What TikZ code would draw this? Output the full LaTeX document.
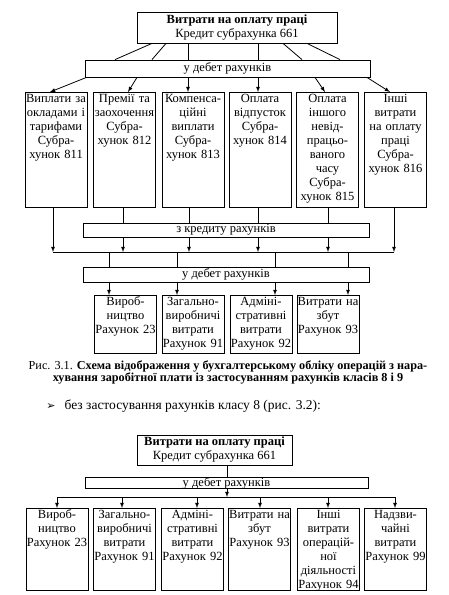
\documentclass[tikz,border=0pt]{standalone}
\usepackage{fontspec}
\setmainfont{Liberation Serif}
\newfontfamily\dingfont{DejaVu Sans}

\begin{document}
\begin{tikzpicture}[>=latex, x=1pt, y=-1pt, line width=0.8pt,
  font=\fontsize{12.5}{14}\selectfont,
  head/.style={draw, align=center, minimum width=#1, minimum height=31pt, inner sep=0pt},
  band/.style={draw, fill=white, minimum width=#1, minimum height=15pt, inner sep=0pt},
  cell/.style={draw, anchor=north, text width=62pt, align=center, inner sep=0pt,
    text height=10pt, text depth=#1}]

\useasboundingbox (0,0) rectangle (449,595);

% --- first scheme ---
\node[head=200pt] (pay) at (237,27.5) {\textbf{Витрати на оплату праці}\\Кредит субрахунка 661};
\node[band=285pt, minimum height=17pt] (deb) at (227.5,68.5) {у дебет рахунків};

\draw ([xshift=-85pt]pay.south) -- ([xshift=-112.5pt]deb.north);
\draw ([xshift=-71pt]pay.south) -- ([xshift=-75.5pt]deb.north);
\draw ([xshift=-49pt]pay.south) -- ([xshift=-39.5pt]deb.north);
\draw ([xshift=21pt]pay.south) -- ([xshift=30.5pt]deb.north);
\draw ([xshift=46pt]pay.south) -- ([xshift=74.5pt]deb.north);
\draw ([xshift=70pt]pay.south) -- ([xshift=112.5pt]deb.north);

\node[cell=105pt] (s811) at (56,92) {Виплати за\\окладами і\\тарифами\\Субра-\\хунок 811};
\node[cell=105pt] (s812) at (124.5,92) {Премії та\\заохочення\\Субра-\\хунок 812};
\node[cell=105pt] (s813) at (193,92) {Компенса-\\ційні\\виплати\\Субра-\\хунок 813};
\node[cell=105pt] (s814) at (260,92) {Оплата\\відпусток\\Субра-\\хунок 814};
\node[cell=105pt] (s815) at (327.5,92) {Оплата\\іншого\\невід-\\працьо-\\ваного\\часу\\Субра-\\хунок 815};
\node[cell=105pt] (s816) at (395.5,92) {Інші\\витрати\\на оплату\\праці\\Субра-\\хунок 816};

\draw[->] ([xshift=-141pt]deb.south) -- ([xshift=-6pt]s811.north);
\draw[->] ([xshift=-90.5pt]deb.south) -- ([xshift=3.5pt]s812.north);
\draw[->] ([xshift=-39.5pt]deb.south) -- ([xshift=-5pt]s813.north);
\draw[->] ([xshift=30.5pt]deb.south) -- ([xshift=-2pt]s814.north);
\draw[->] ([xshift=87.5pt]deb.south) -- ([xshift=-2.5pt]s815.north);
\draw[->] ([xshift=139.5pt]deb.south) -- ([xshift=-5.5pt]s816.north);

% collector line
\coordinate (c1) at (53,252);
\coordinate (c2) at (123,252);
\coordinate (c3) at (189,252);
\coordinate (c4) at (258,252);
\coordinate (c5) at (328,252);
\coordinate (c6) at (394,252);
\draw (c1) -- (c6);
\draw[->] (s811.south -| c1) -- (c1);
\draw[->] (s812.south -| c2) -- (c2);
\draw[->] (s813.south -| c3) -- (c3);
\draw[->] (s814.south -| c4) -- (c4);
\draw[->] (s815.south -| c5) -- (c5);
\draw[->] (s816.south -| c6) -- (c6);
\node[band=286pt, minimum height=14pt] (cred) at (226,230) {з кредиту рахунків};

\node[cell=48pt] (r23) at (125.5,295) {Вироб-\\ництво\\Рахунок 23};
\node[cell=48pt] (r91) at (193,295) {Загально-\\виробничі\\витрати\\Рахунок 91};
\node[cell=48pt] (r92) at (261,295) {Адміні-\\стративні\\витрати\\Рахунок 92};
\node[cell=48pt] (r93) at (328,295) {Витрати на\\збут\\Рахунок 93};

\coordinate (d1) at (109,252);
\coordinate (d2) at (177,252);
\coordinate (d3) at (275,252);
\coordinate (d4) at (348,252);
\draw[->] (d1) -- (d1 |- r23.north);
\draw[->] (d2) -- (d2 |- r91.north);
\draw[->] (d3) -- (d3 |- r92.north);
\draw[->] (d4) -- (d4 |- r93.north);
\node[band=286pt] (deb2) at (226,274.5) {у дебет рахунків};

% caption and note
\node[align=center, font=\fontsize{12.2}{12.6}\selectfont] (cap) at (228,372.5)
  {Рис. 3.1. \textbf{Схема відображення у бухгалтерському обліку операцій з нара-}\\
   \textbf{хування заробітної плати із застосуванням рахунків класів 8 і 9}};
\node[anchor=west, inner sep=0pt, font=\fontsize{13.5}{14}\selectfont] (note) at (46,406)
  {{\dingfont\fontsize{11}{11}\selectfont ➢}\hspace{9pt}без застосування рахунків класу 8 (рис. 3.2):};

% --- second scheme ---
\node[head=155pt, minimum height=30pt] (pay2) at (214.5,450) {\textbf{Витрати на оплату праці}\\Кредит субрахунка 661};

\coordinate (m) at (227,497);
\coordinate (e1) at (57,497);
\coordinate (e2) at (122,497);
\coordinate (e3) at (197,497);
\coordinate (e4) at (260,497);
\coordinate (e5) at (328,497);
\coordinate (e6) at (395,497);
\draw[->] (pay2.south -| m) -- (m);
\node[band=283pt, minimum height=11pt] (deb3) at (226.5,483) {у дебет рахунків};
\draw (e1) -- (e6);

\node[cell=72pt] (b23) at (57,508) {Вироб-\\ництво\\Рахунок 23};
\node[cell=72pt] (b91) at (124.5,508) {Загально-\\виробничі\\витрати\\Рахунок 91};
\node[cell=72pt] (b92) at (192.5,508) {Адміні-\\стративні\\витрати\\Рахунок 92};
\node[cell=72pt] (b93) at (259.5,508) {Витрати на\\збут\\Рахунок 93};
\node[cell=72pt] (b94) at (328.5,508) {Інші\\витрати\\операцій-\\ної\\діяльності\\Рахунок 94};
\node[cell=72pt] (b99) at (395.5,508) {Надзви-\\чайні\\витрати\\Рахунок 99};

\draw[->] (e1) -- (e1 |- b23.north);
\draw[->] (e2) -- (e2 |- b91.north);
\draw[->] (e3) -- (e3 |- b92.north);
\draw[->] (e4) -- (e4 |- b93.north);
\draw[->] (e5) -- (e5 |- b94.north);
\draw[->] (e6) -- (e6 |- b99.north);

\end{tikzpicture}
\end{document}
